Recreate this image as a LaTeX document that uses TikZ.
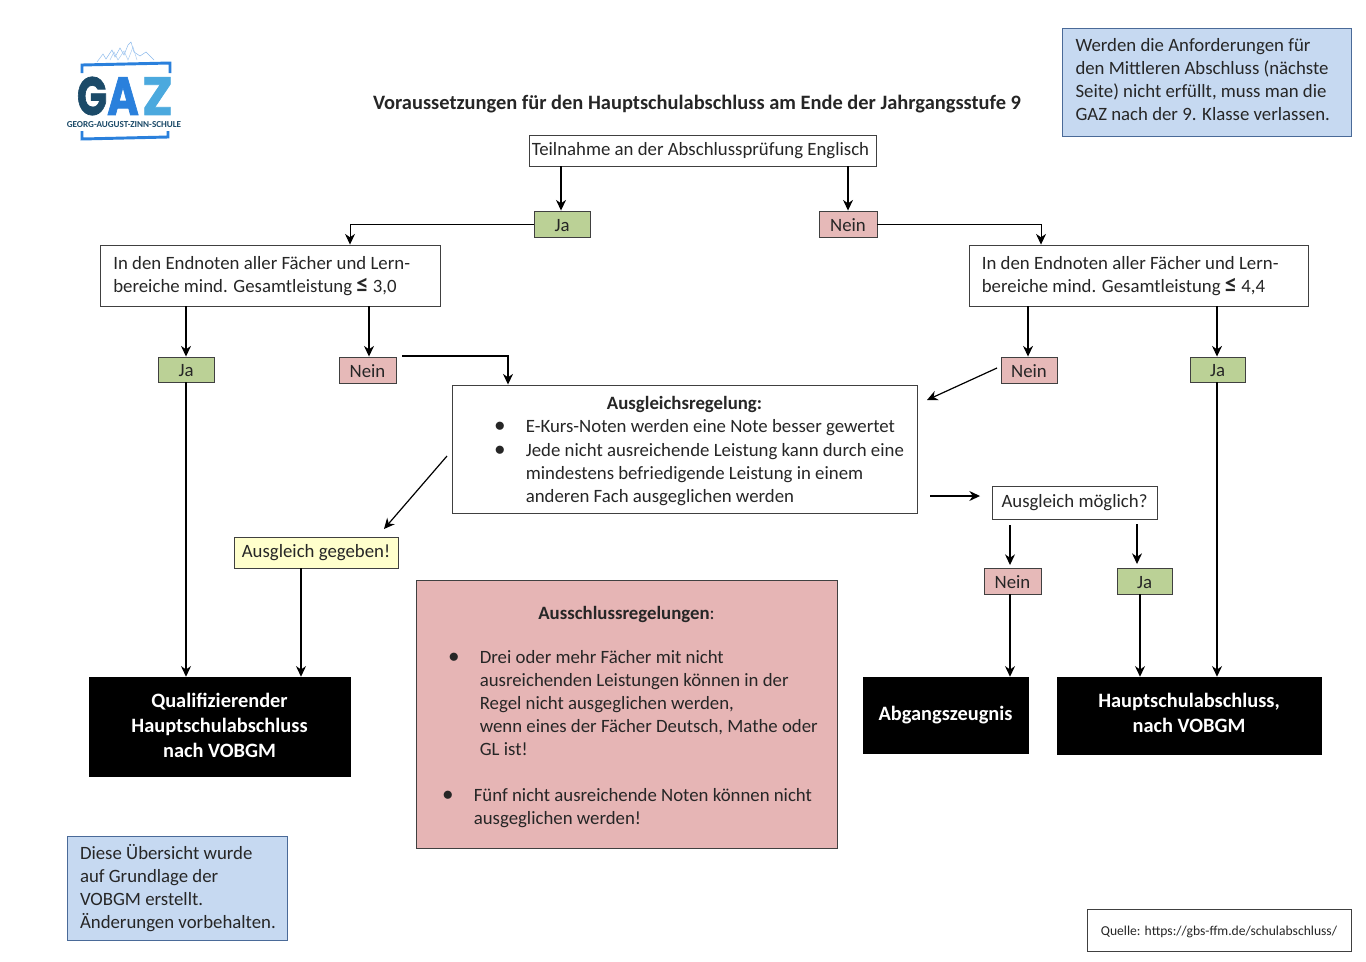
\documentclass[tikz,border=0pt]{standalone}
\usepackage{fontspec}
\setmainfont{Carlito}
\newfontfamily\logofont[BoldFeatures={FakeBold=1.5}]{Poppins}
\usetikzlibrary{arrows.meta,positioning}
\definecolor{txt}{HTML}{262626}
\definecolor{edge}{HTML}{404040}
\definecolor{ygreen}{HTML}{BBD196}
\definecolor{npink}{HTML}{E6B9B8}
\definecolor{gyellow}{HTML}{FFFFCC}
\definecolor{nblue}{HTML}{C6D9F1}
\definecolor{nblueedge}{HTML}{4A6A98}
\definecolor{apink}{HTML}{E6B5B5}
\definecolor{logoa}{HTML}{1B4A68}
\definecolor{logob}{HTML}{2A80DC}
\definecolor{logoc}{HTML}{4BA9DE}
\newcommand{\bfs}{\fontsize{14.1}{17.25}\selectfont}
\newcommand{\blt}{\makebox[0pt][r]{\raisebox{1pt}{\scalebox{1.1}{$\bullet$}}\hspace{15.5pt}}}
\newcommand{\lessq}{{\bfseries\scalebox{1.3}{≤}}}
\tikzset{
  boxbase/.style={draw=edge,line width=.7pt,inner sep=0pt,text=txt,font=\bfs,align=center},
  yes/.style={boxbase,fill=ygreen},
  no/.style={boxbase,fill=npink},
  plain/.style={boxbase,fill=white},
  blackbox/.style={draw=black,fill=black,inner sep=0pt,text=white,align=center,font=\fontsize{15.3}{18.75}\selectfont\bfseries},
  notebox/.style={draw=nblueedge,fill=nblue,line width=.7pt,inner sep=0pt,text=txt,font=\bfs,align=left},
  arr/.style={black,line width=.9pt,-{Stealth[length=8pt,width=7.5pt]}},
  thinarr/.style={black,line width=.6pt,-{Stealth[length=8pt,width=7.5pt]}},
  logoletter/.style={font=\logofont\fontsize{38}{38}\selectfont\bfseries,inner sep=0pt},
}
% \bx[dy of the text]{style}{name}{x1}{y1}{x2}{y2}{text}
\newcommand{\bx}[8][0]{%
  \pgfmathsetmacro{\bxcx}{(#4+#6)/2}\pgfmathsetmacro{\bxcy}{(#5+#7)/2}%
  \pgfmathsetmacro{\bxty}{\bxcy+#1}%
  \pgfmathsetmacro{\bxw}{(#6-#4)*0.75}\pgfmathsetmacro{\bxh}{(#7-#5)*0.75}%
  \node[#2,minimum width=\bxw pt,minimum height=\bxh pt] (#3) at (\bxcx,\bxcy) {};
  \node[#2,draw=none,fill=none] (#3t) at (\bxcx,\bxty) {#8};}
\begin{document}
\begin{tikzpicture}[x=0.75pt,y=-0.75pt]
\useasboundingbox (0,0) rectangle (1366,961);
\fill[white] (0,0) rectangle (1366,961);

% logo
\draw[logob!55,line width=.35pt] (97,62) -- (103,54) -- (106,59) -- (112,50) -- (115,57) -- (120,48) -- (124,55) -- (128,45) -- (131,42) -- (134,52) -- (140,56) -- (146,52) -- (154,60);
\draw[logob!40,line width=.35pt] (110,60) -- (114,52) -- (118,60) -- (124,51) -- (128,60) -- (133,47) -- (137,60);
\draw[logob,line width=2.2pt] (82,73) -- (82,65) -- (170,63) -- (170,73);
\draw[logob,line width=2.2pt] (82,131) -- (82,139) -- (168,137) -- (168,131);
\node[logoletter,text=logoa] (logog) at (92,96) {\scalebox{0.78}[1.06]{G}};
\node[logoletter,text=logob] (logoaa) at (123,96) {\scalebox{0.85}[1.06]{A}};
\node[logoletter,text=logoc] (logoz) at (157.5,96) {\scalebox{1.02}[1.06]{Z}};
\node[font=\fontsize{6.85}{7}\selectfont\bfseries,text=logoa,inner sep=0pt] (logot) at (124,125) {GEORG-AUGUST-ZINN-SCHULE};

\node[font=\fontsize{15.33}{17}\selectfont\bfseries,text=txt,inner sep=0pt] (title) at (697,104.5) {Voraussetzungen für den Hauptschulabschluss am Ende der Jahrgangsstufe 9};

\bx[-2]{notebox}{topnote}{1062}{28}{1351}{136}{\hspace*{8.5pt}\parbox{205pt}{\raggedright Werden die Anforderungen für\\den Mittleren Abschluss (nächste\\Seite) nicht erfüllt, muss man die\\GAZ nach der 9. Klasse verlassen.}}
\bx{plain}{teil}{529}{135}{876}{166}{Teilnahme an der Abschlussprüfung Englisch\hspace*{3pt}}
\bx[1.5]{yes}{jaa}{534}{211}{590}{237}{Ja}
\bx[1.5]{no}{neina}{819}{211}{877}{237}{Nein}
\bx[1]{plain}{lbig}{100}{245}{440}{306}{\parbox{235pt}{\raggedright In den Endnoten aller Fächer und Lern-\\bereiche mind. Gesamtleistung \lessq{} 3,0}}
\bx[1]{plain}{rbig}{969}{245}{1308}{306}{\parbox{235pt}{\raggedright In den Endnoten aller Fächer und Lern-\\bereiche mind. Gesamtleistung \lessq{} 4,4}}
\bx[1.5]{yes}{jal}{158}{357}{214}{382}{Ja}
\bx[1.5]{no}{neinl}{339}{357}{396}{383}{Nein}
\bx[1.5]{no}{neinr}{1001}{357}{1057}{383}{Nein}
\bx[1.5]{yes}{jar}{1190}{357}{1245}{382}{Ja}
\bx[2]{plain}{ausgl}{452}{385}{917}{513}{\parbox{340pt}{\centering\bfseries Ausgleichsregelung:\\[.6pt]\raggedright\mdseries\hspace*{51pt}\blt E-Kurs-Noten werden eine Note besser gewertet\\[.6pt]\hspace*{51pt}\blt Jede nicht ausreichende Leistung kann durch eine\\\hspace*{51pt}mindestens befriedigende Leistung in einem\\\hspace*{51pt}anderen Fach ausgeglichen werden}}
\bx{plain}{moegl}{992}{486}{1157}{519}{Ausgleich möglich?}
\bx[1]{no}{neinm}{984}{568}{1041}{594}{Nein}
\bx[1.5]{yes}{jam}{1117}{568}{1172}{594}{Ja}
\bx{boxbase,fill=gyellow}{geg}{234}{537}{398}{568}{Ausgleich gegeben!}
\bx[3]{boxbase,fill=apink}{aus}{416}{580}{837}{848}{\parbox{310pt}{\centering {\bfseries Ausschlussregelungen}:\\[15.75pt]\raggedright
\hspace*{45pt}\blt Drei oder mehr Fächer mit nicht\\\hspace*{45pt}ausreichenden Leistungen können in der\\\hspace*{45pt}Regel nicht ausgeglichen werden,\\\hspace*{45pt}wenn eines der Fächer Deutsch, Mathe oder\\\hspace*{45pt}GL ist!\\[17.25pt]
\hspace*{40.5pt}\blt Fünf nicht ausreichende Noten können nicht\\\hspace*{40.5pt}ausgeglichen werden!}}
\bx[-1]{blackbox}{qual}{89}{677}{350}{776}{\parbox{190pt}{\centering Qualifizierender\\Hauptschulabschluss\\nach VOBGM}}
\bx{blackbox}{abg}{863}{677}{1028}{753}{Abgangszeugnis}
\bx[-2.5]{blackbox}{haupt}{1057}{677}{1321}{754}{\parbox{190pt}{\centering Hauptschulabschluss,\\nach VOBGM}}
\bx[0.5]{notebox}{botnote}{67}{836}{287}{940}{\hspace*{9.5pt}\parbox{155pt}{\raggedright Diese Übersicht wurde\\auf Grundlage der\\VOBGM erstellt.\\Änderungen vorbehalten.}}
\bx[1.5]{boxbase,font=\fontsize{10.2}{12}\selectfont}{quelle}{1087}{909}{1351}{951}{Quelle: https://gbs-ffm.de/schulabschluss/}

% free ends of connectors
\coordinate (s1) at (402,356);
\coordinate (s2) at (997,368);
\coordinate (e2) at (927,400);
\coordinate (s3) at (447,456);
\coordinate (e3) at (384,529);
\coordinate (s4) at (930,496);
\coordinate (e4) at (980,496);
\coordinate (s5) at (1010,525);
\coordinate (e5) at (1010,565);
\coordinate (s6) at (1137,524);
\coordinate (e6) at (1137,564);

\draw[arr] (561,0 |- teil.south) -- (561,0 |- jaa.north);
\draw[arr] (848,0 |- teil.south) -- (848,0 |- neina.north);
\draw[thinarr] (jaa.west) -| (350,0 |- lbig.north);
\draw[thinarr] (neina.east) -| (1041,0 |- rbig.north);
\draw[arr] (186,0 |- lbig.south) -- (186,0 |- jal.north);
\draw[arr] (369,0 |- lbig.south) -- (369,0 |- neinl.north);
\draw[arr] (1028,0 |- rbig.south) -- (1028,0 |- neinr.north);
\draw[arr] (1217,0 |- rbig.south) -- (1217,0 |- jar.north);
\draw[arr] (s1) -| (508,0 |- ausgl.north);
\draw[arr] (s2) -- (e2);
\draw[arr] (s3) -- (e3);
\draw[arr] (s4) -- (e4);
\draw[arr] (s5) -- (e5);
\draw[arr] (s6) -- (e6);
\draw[arr] (186,0 |- jal.south) -- (186,0 |- qual.north);
\draw[arr] (301,0 |- geg.south) -- (301,0 |- qual.north);
\draw[arr] (1010,0 |- neinm.south) -- (1010,0 |- abg.north);
\draw[arr] (1140,0 |- jam.south) -- (1140,0 |- haupt.north);
\draw[arr] (1217,0 |- jar.south) -- (1217,0 |- haupt.north);
\end{tikzpicture}
\end{document}
